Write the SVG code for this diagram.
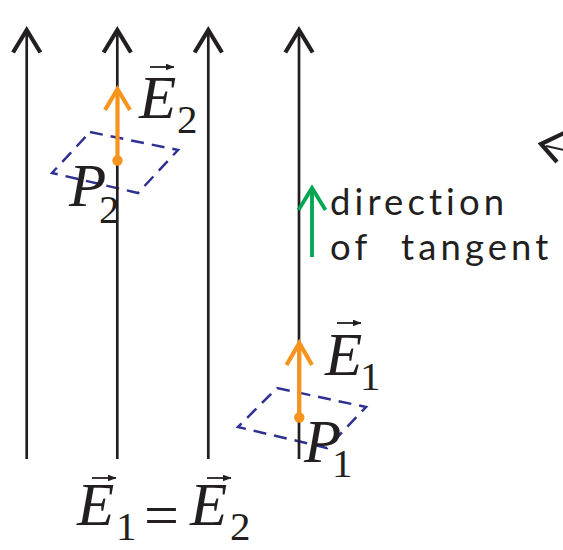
<svg xmlns="http://www.w3.org/2000/svg" width="563" height="550" viewBox="0 0 563 550">
<defs>
<style>
.fl{stroke:#231f20;stroke-width:2.7;fill:none}
.ah{stroke:#231f20;stroke-width:4.2;fill:none;stroke-linejoin:miter;stroke-linecap:butt}
.dash{stroke:#2e3192;stroke-width:2.5;fill:none;stroke-dasharray:13 8}
.or{stroke:#f7941d;stroke-width:4.2;fill:none}
.gr{stroke:#00a651;stroke-width:3.8;fill:none}
.it{font-family:"Liberation Serif","Times New Roman",serif;font-style:italic;font-size:61px;fill:#231f20}
.sub{font-family:"Liberation Serif","Times New Roman",serif;font-size:41px;fill:#231f20}
.eq{font-family:"Liberation Serif","Times New Roman",serif;font-size:62px;fill:#231f20}
.lbl{font-family:Lato,"DejaVu Sans",sans-serif;font-size:36.5px;fill:#231f20;letter-spacing:4.1px}
.va{stroke:#231f20;stroke-width:1.8;fill:none}
</style>
<marker id="vh" viewBox="0 0 9 7" refX="8.5" refY="3.5" markerWidth="9" markerHeight="7" markerUnits="userSpaceOnUse" orient="auto">
<path d="M0,0 L9,3.5 L0,7 Z" fill="#231f20"/>
</marker>
</defs>
<rect width="563" height="550" fill="#ffffff"/>

<g id="surfaces">
<polygon id="surface-P2" class="dash" points="90,132 178,150 138,193 52,173"/>
<polygon id="surface-P1" class="dash" points="277,388 366,407 327,448 238,427"/>
</g>

<g id="connectors">
<g id="field-line-1"><line class="fl" x1="26.7" y1="32" x2="26.7" y2="459"/><polyline class="ah" points="13,52.5 26.7,30 40.4,52.5"/></g>
<g id="field-line-2"><line class="fl" x1="117.3" y1="32" x2="117.3" y2="459"/><polyline class="ah" points="103.6,52.5 117.3,30 131,52.5"/></g>
<g id="field-line-3"><line class="fl" x1="208.3" y1="32" x2="208.3" y2="459"/><polyline class="ah" points="194.6,52.5 208.3,30 222,52.5"/></g>
<g id="field-line-4"><line class="fl" x1="299" y1="32" x2="299" y2="459"/><polyline class="ah" points="285.3,52.5 299,30 312.7,52.5"/></g>
<g id="edge-chevron"><polyline class="ah" points="564,133 541,144 557,162"/><line class="va" x1="546" y1="146" x2="564" y2="150"/></g>
</g>

<g id="tangent">
<line class="gr" x1="312" y1="257" x2="312" y2="190"/>
<polyline class="gr" points="298.5,210 312,188 325.5,210"/>
<text class="lbl" x="330" y="215">direction</text>
<text class="lbl" x="330" y="260">of</text>
<text class="lbl" x="401" y="260">tangent</text>
</g>

<g id="P2">
<line class="or" x1="117.5" y1="161" x2="117.5" y2="91"/>
<polyline class="or" points="105,110 117.5,89 130,110"/>
<circle cx="117.5" cy="160.5" r="5.2" fill="#f7941d"/>
<line class="va" x1="150" y1="67" x2="174" y2="67" marker-end="url(#vh)"/>
<text class="it" x="139" y="118">E</text>
<text class="sub" x="177" y="133">2</text>
<text class="it" x="69" y="206">P</text>
<text class="sub" x="99" y="223">2</text>
</g>

<g id="P1">
<line class="or" x1="299.3" y1="418" x2="299.3" y2="345"/>
<polyline class="or" points="286.5,365 299.3,343 312,365"/>
<circle cx="299.3" cy="417.5" r="5.2" fill="#f7941d"/>
<line class="va" x1="337" y1="323" x2="361" y2="323" marker-end="url(#vh)"/>
<text class="it" x="325" y="375">E</text>
<text class="sub" x="360" y="390">1</text>
<text class="it" x="304" y="462">P</text>
<text class="sub" x="332" y="477">1</text>
</g>

<g id="equation">
<line class="va" x1="92" y1="478" x2="116" y2="478" marker-end="url(#vh)"/>
<text class="it" x="77" y="525">E</text>
<text class="sub" x="116" y="540">1</text>
<text class="eq" x="144" y="536">=</text>
<line class="va" x1="207" y1="478" x2="231" y2="478" marker-end="url(#vh)"/>
<text class="it" x="190" y="525">E</text>
<text class="sub" x="230" y="540">2</text>
</g>
</svg>
